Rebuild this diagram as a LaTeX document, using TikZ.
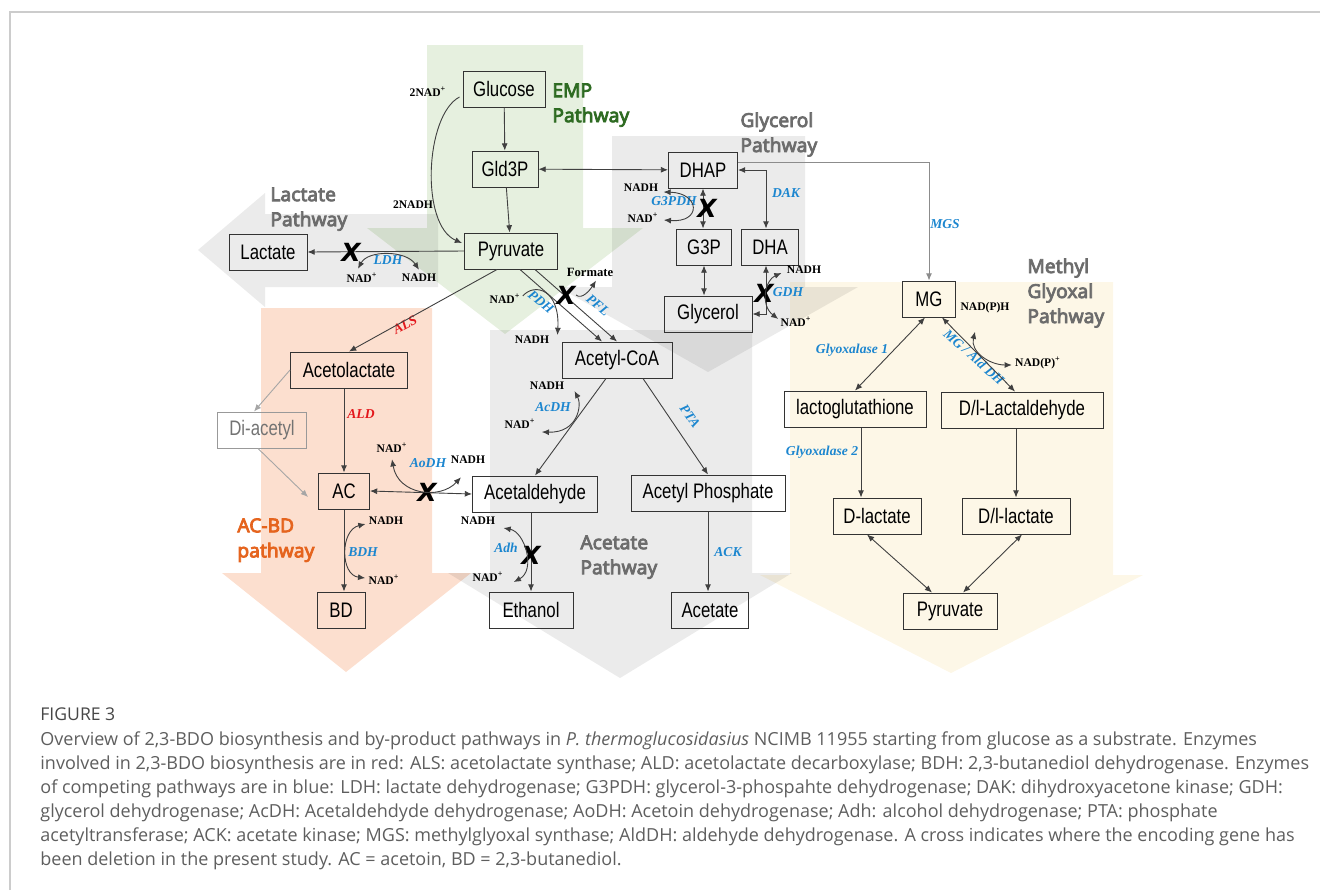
\documentclass[tikz,border=0pt]{standalone}
\usepackage{fontspec}
\setmainfont{Liberation Serif}
\newfontfamily\boxfont[FakeStretch=0.8]{Liberation Sans}
\newfontfamily\pathfont[FakeBold=4]{Noto Sans}
\newfontfamily\capfont{Open Sans}
\newfontfamily\crossfont{DejaVu Sans}
\usetikzlibrary{arrows.meta,calc}

\definecolor{empgreen}{HTML}{E6F0DF}
\definecolor{empdark}{HTML}{2E6B22}
\definecolor{orangebg}{HTML}{FCDFCF}
\definecolor{acbd}{HTML}{E5641E}
\definecolor{yellowbg}{HTML}{FDF7E7}
\definecolor{pwgray}{HTML}{6C6C6C}
\definecolor{enzblue}{HTML}{1C86CF}
\definecolor{enzred}{HTML}{E3181C}
\definecolor{capgray}{HTML}{5E5E5E}
\definecolor{framegray}{HTML}{CCCCCC}

\begin{document}
\begin{tikzpicture}[x=0.5pt,y=-0.5pt,
>={Latex[length=3.6pt,width=3pt]},
box/.style={draw=black!80,line width=0.5pt,minimum height=18pt,inner sep=0pt,
  font=\boxfont\fontsize{10.5}{12}\selectfont},
conn/.style={draw=black!75,line width=0.45pt},
cof/.style={font=\bfseries\fontsize{5.8}{6}\selectfont,inner sep=0.5pt},
enz/.style={text=enzblue,font=\bfseries\itshape\fontsize{6.8}{7}\selectfont,inner sep=0.5pt},
enzb/.style={enz},
xm/.style={font=\crossfont\bfseries\itshape\fontsize{12.5}{12.5}\selectfont,inner sep=0pt},
pw/.style={font=\pathfont\fontsize{9.6}{12.5}\selectfont,align=left,
  anchor=north west,text=pwgray,inner sep=0pt},
graybg/.style={fill=black,fill opacity=0.08},
captext/.style={font=\capfont\fontsize{9}{10}\selectfont,text=capgray,anchor=west,inner sep=0pt}]

\useasboundingbox (0,0) rectangle (1320,890);
\draw[framegray,line width=0.8pt] (10,890) -- (10,12) -- (1320,12);

\fill[yellowbg] (790,282) -- (1113,282) -- (1113,575) -- (1143,575) -- (951,673) -- (760,575) -- (790,575) -- cycle;
\fill[orangebg] (261,308) -- (432,308) -- (432,573) -- (471,573) -- (346,672) -- (222,573) -- (261,573) -- cycle;
\fill[empgreen] (427,45) -- (583,45) -- (583,228) -- (643,228) -- (505,334) -- (367,228) -- (427,228) -- cycle;
\fill[graybg] (612,136) -- (805,136) -- (805,287) -- (858,287) -- (708,372) -- (558,287) -- (612,287) -- cycle;
\fill[graybg] (438,214) -- (265,214) -- (265,193) -- (198,250) -- (265,307) -- (265,287) -- (438,287) -- cycle;
\fill[graybg] (490,330) -- (752,330) -- (752,573) -- (792,573) -- (620,678) -- (448,573) -- (490,573) -- cycle;

\node[box,minimum width=41pt] (glucose) at (504,89) {Glucose};
\node[box,minimum width=33pt] (gld3p) at (505,169) {Gld3P};
\node[box,minimum width=46.5pt] (pyruvate) at (511,251) {Pyruvate};
\node[box,minimum width=39pt] (lactate) at (268,252) {Lactate};
\node[box,minimum width=34.5pt] (dhap) at (703,170) {DHAP};
\node[box,minimum width=27.5pt] (g3p) at (704,247) {G3P};
\node[box,minimum width=28.5pt] (dha) at (770,247) {DHA};
\node[box,minimum width=44pt] (glycerol) at (708,314) {Glycerol};
\node[box,minimum width=26.5pt] (mg) at (929,299) {MG};
\node[box,minimum width=58.5pt] (acetolactate) at (349,370) {Acetolactate};
\node[box,minimum width=44.5pt,draw=black!40,text=black!55] (diacetyl) at (262,430) {Di-acetyl};
\node[box,minimum width=25.5pt] (ac) at (344,491) {AC};
\node[box,minimum width=24pt] (bd) at (341,610) {BD};
\node[box,minimum width=55pt] (acoa) at (617,360) {Acetyl-CoA};
\node[box,minimum width=62.5pt] (acetald) at (535,494) {Acetaldehyde};
\node[box,minimum width=77pt] (acp) at (708,493) {Acetyl Phosphate};
\node[box,minimum width=42pt] (ethanol) at (531,610) {Ethanol};
\node[box,minimum width=38.5pt] (acetate) at (710,610) {Acetate};
\node[box,minimum width=71pt] (lactoglut) at (855,409) {lactoglutathione};
\node[box,minimum width=81pt] (lactald) at (1022,410) {D/l-Lactaldehyde};
\node[box,minimum width=44pt] (dlac) at (877,516) {D-lactate};
\node[box,minimum width=54pt] (dllac) at (1016,516) {D/l-lactate};
\node[box,minimum width=47pt] (pyr2) at (950,611) {Pyruvate};

\node[pw,text=empdark] (emppw) at (552,83) {EMP\\Pathway};
\node[pw] (glycpw) at (740,112) {Glycerol\\Pathway};
\node[pw] (lacpw) at (270,187) {Lactate\\Pathway};
\node[pw] (mgpw) at (1027,258) {Methyl\\Glyoxal\\Pathway};
\node[pw,text=acbd] (acbdpw) at (237,518) {AC-BD\\pathway};
\node[pw] (acepw) at (580,535) {Acetate\\Pathway};

\node[cof] (nad_glc) at (428,92) {2NAD\textsuperscript{+}};
\node[cof] (nadh_glc) at (413,205) {2NADH};
\node[cof] (nad_ldh) at (362,278) {NAD\textsuperscript{+}};
\node[cof] (nadh_ldh) at (419,278) {NADH};
\node[enz] (ldh) at (388,260) {LDH};
\node[cof] (nad_pdh) at (505,299) {NAD\textsuperscript{+}};
\node[cof] (nadh_pdh) at (532,340) {NADH};
\node[enz,rotate=-40] (pdh) at (541,302) {PDH};
\node[cof,font=\bfseries\fontsize{6.3}{7}\selectfont] (formate) at (590,272) {Formate};
\node[enz,rotate=-40] (pfl) at (598,305) {PFL};
\node[cof] (nadh_g3) at (641,188) {NADH};
\node[cof] (nad_g3) at (643,218) {NAD\textsuperscript{+}};
\node[enz] (g3pdh) at (674,201) {G3PDH};
\node[enz] (dak) at (786,193) {DAK};
\node[cof] (nadh_gdh) at (804,270) {NADH};
\node[cof] (nad_gdh) at (796,322) {NAD\textsuperscript{+}};
\node[enz] (gdh) at (788,292) {GDH};
\node[enzb] (mgs) at (945,224) {MGS};
\node[enzb] (glo1) at (852,350) {Glyoxalase 1};
\node[enzb] (glo2) at (822,452) {Glyoxalase 2};
\node[enzb,rotate=-42] (alddh) at (974,357) {MG / Ald DH};
\node[cof] (nadph) at (985,308) {NAD(P)H};
\node[cof] (nadpp) at (1038,363) {NAD(P)\textsuperscript{+}};
\node[enzb,text=enzred,rotate=28] (als) at (405,325) {ALS};
\node[enzb,text=enzred] (ald) at (361,414) {ALD};
\node[enz] (bdh) at (363,552) {BDH};
\node[cof] (nadh_bdh) at (386,521) {NADH};
\node[cof] (nad_bdh) at (384,580) {NAD\textsuperscript{+}};
\node[enz] (aodh) at (428,463) {AoDH};
\node[cof] (nad_aodh) at (392,448) {NAD\textsuperscript{+}};
\node[cof] (nadh_aodh) at (468,460) {NADH};
\node[enz] (acdh) at (553,407) {AcDH};
\node[cof] (nadh_acdh) at (547,386) {NADH};
\node[cof] (nad_acdh) at (520,424) {NAD\textsuperscript{+}};
\node[enz,rotate=-55] (pta) at (690,416) {PTA};
\node[enz] (adh) at (506,548) {Adh};
\node[cof] (nadh_adh) at (478,521) {NADH};
\node[cof] (nad_adh) at (488,577) {NAD\textsuperscript{+}};
\node[enz] (ack) at (728,552) {ACK};

\draw[conn,->] (glucose) -- (gld3p);
\draw[conn,->] (gld3p) -- (pyruvate);
\draw[conn,<->] (gld3p) -- (dhap);
\draw[conn,->] (pyruvate.west) -- (lactate.east);
\draw[conn,->] ([xshift=-7pt]pyruvate.south) -- (acetolactate.north);
\draw[conn,->] ([xshift=4.5pt]pyruvate.south) -- ([xshift=-7.5pt]acoa.north);
\draw[conn,->] ([xshift=12pt]pyruvate.south) -- (acoa.north);
\draw[conn,->] ($(glucose.west)+(-3,8)$) .. controls (425,115) and (420,225) .. ($(pyruvate.west)+(-2,-8)$);
\draw[conn,<->] (dhap.south) -- (dhap.south |- g3p.north);
\draw[conn,<->] (dhap.east) -| ([xshift=-2pt]dha.north);
\draw[conn,<->] (g3p.south) -- (g3p.south |- glycerol.north);
\draw[conn,<->] ([xshift=-2pt]dha.south) |- (glycerol.east);
\draw[conn,draw=black!45,->] ([yshift=4pt]dhap.east) -| (mg.north);
\draw[conn,<->] ([xshift=-2pt]mg.south) -- (lactoglut.north);
\draw[conn,<->] ([xshift=6.5pt]mg.south) -- ([xshift=-3.5pt]lactald.north);
\draw[conn,->] ([xshift=3pt]lactoglut.south) -- ([xshift=3pt]lactoglut.south |- dlac.north);
\draw[conn,->] (dllac.north |- lactald.south) -- (dllac.north);
\draw[conn,<->] ([xshift=-5pt]dlac.south) -- ([xshift=-9pt]pyr2.north);
\draw[conn,<->] ([xshift=3pt]dllac.south) -- ([xshift=6.5pt]pyr2.north);
\draw[conn,draw=black!35,->] (acetolactate.west) -- ([xshift=-4pt]diacetyl.north);
\draw[conn,draw=black!35,->] ([xshift=-2pt]diacetyl.south) -- ([xshift=-5pt,yshift=-3pt]ac.west);
\draw[conn,->] (ac.north |- acetolactate.south) -- (ac.north);
\draw[conn,->] (ac.south) -- (ac.south |- bd.north);
\draw[conn,<->] (ac.east) -- (acetald.west);
\draw[conn,->] ([xshift=-5.5pt]acoa.south) -- (acetald.north);
\draw[conn,->] ([xshift=13pt]acoa.south) -- (acp.north);
\draw[conn,->] (ethanol.north |- acetald.south) -- (ethanol.north);
\draw[conn,->] (acp.south) -- (acp.south |- acetate.north);

\node[xm] (xldh) at (351,252) {X};
\node[xm] (xpfl) at (566,295) {X};
\node[xm] (xg3) at (707,208) {X};
\node[xm] (xgdh) at (764,293) {X};
\node[xm] (xaodh) at (427,492) {X};
\node[xm] (xadh) at (531,555) {X};

\draw[conn,<->] ($(nad_ldh.north)+(-4,-3)$) .. controls (368,250) and (406,250) .. ($(nadh_ldh.north)+(0,-3)$);
\draw[conn,->] ($(nad_pdh.east)+(1,-3)$) .. controls (535,282) and (560,290) .. ($(nadh_pdh.east)+(7,-5)$);
\draw[conn,->] (xpfl.east) .. controls (582,300) and (590,290) .. ($(formate.south)+(6,3)$);
\draw[conn,<->] ($(nadh_g3.east)+(4,4)$) .. controls (700,193) and (702,223) .. ($(nad_g3.east)+(4,2)$);
\draw[conn,<->] ($(nadh_gdh.west)+(-4,3)$) .. controls (765,280) and (760,305) .. ($(nad_gdh.west)+(-1,-3)$);
\draw[conn,<->] ($(nadh_bdh.west)+(-2,3)$) .. controls (340,530) and (340,575) .. ($(nad_bdh.west)+(-2,-2)$);
\draw[conn,<->] ($(nad_aodh.south)+(0,5)$) .. controls (398,495) and (440,500) .. ($(nadh_aodh.south)+(-7,12)$);
\draw[conn,<->] ($(nadh_acdh.east)+(9,5)$) .. controls (582,405) and (578,433) .. ($(nad_acdh.east)+(5,8)$);
\draw[conn,<->] ($(nadh_adh.east)+(7,7)$) .. controls (525,532) and (536,570) .. ($(nad_adh.east)+(9,5)$);
\draw[conn,<->] ($(nadph.south)+(-10,17)$) .. controls (970,352) and (990,365) .. ($(nadpp.west)+(-2,2)$);

\node[captext,font=\capfont\fontsize{8.8}{10}\selectfont,text=black!72] (fig3) at (40,714) {FIGURE 3};
\node[captext] (cap1) at (40,741) {Overview of 2,3-BDO biosynthesis and by-product pathways in \textit{P. thermoglucosidasius} NCIMB 11955 starting from glucose as a substrate. Enzymes};
\node[captext] (cap2) at (40,765) {involved in 2,3-BDO biosynthesis are in red: ALS: acetolactate synthase; ALD: acetolactate decarboxylase; BDH: 2,3-butanediol dehydrogenase. Enzymes};
\node[captext] (cap3) at (40,789) {of competing pathways are in blue: LDH: lactate dehydrogenase; G3PDH: glycerol-3-phospahte dehydrogenase; DAK: dihydroxyacetone kinase; GDH:};
\node[captext] (cap4) at (40,813) {glycerol dehydrogenase; AcDH: Acetaldehdyde dehydrogenase; AoDH: Acetoin dehydrogenase; Adh: alcohol dehydrogenase; PTA: phosphate};
\node[captext] (cap5) at (40,837) {acetyltransferase; ACK: acetate kinase; MGS: methylglyoxal synthase; AldDH: aldehyde dehydrogenase. A cross indicates where the encoding gene has};
\node[captext] (cap6) at (40,861) {been deletion in the present study. AC = acetoin, BD = 2,3-butanediol.};
\end{tikzpicture}
\end{document}
